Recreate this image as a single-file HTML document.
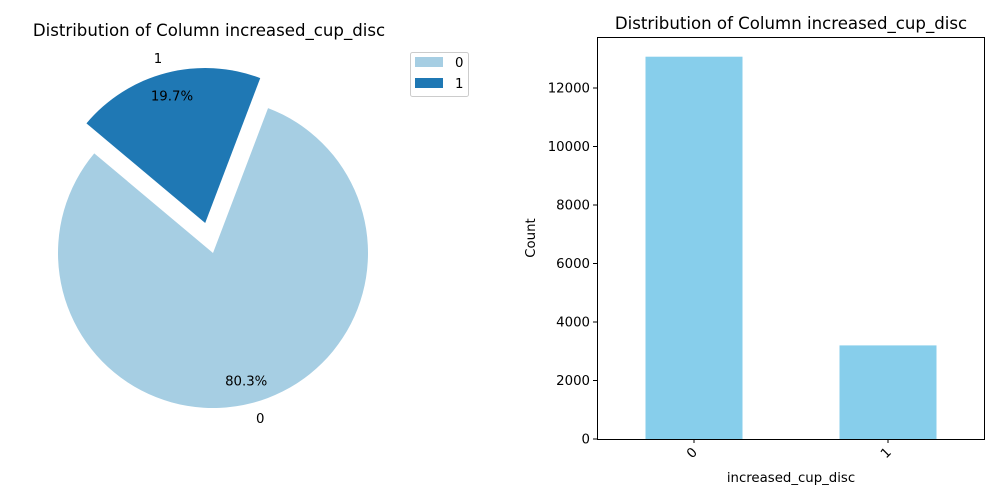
<!DOCTYPE html>
<html><head><meta charset="utf-8"><style>
body{margin:0;background:#fff;}
svg{display:block;font-family:"DejaVu Sans","Liberation Sans",sans-serif;}
</style></head><body>
<svg id="c" width="1000" height="500" viewBox="0 0 1000 500">
<rect width="1000" height="500" fill="#fff"/>
<text x="209" y="36" font-size="16.6" text-anchor="middle">Distribution of Column increased_cup_disc</text>
<g id="pie"></g>
<g>
<rect x="410.5" y="52.5" width="58" height="44" rx="2" fill="#fff" stroke="#ccc"/>
<rect x="415" y="57" width="28" height="10" fill="#a6cee3"/>
<text x="455" y="67" font-size="13.3">0</text>
<rect x="415" y="78" width="28" height="10" fill="#1f78b4"/>
<text x="455" y="88" font-size="13.3">1</text>
</g>
<text x="791" y="29" font-size="16.6" text-anchor="middle">Distribution of Column increased_cup_disc</text>
<g id="bars"></g>
<text x="791" y="482" font-size="13.3" text-anchor="middle">increased_cup_disc</text>
<text x="535" y="238" font-size="13.3" text-anchor="middle" transform="rotate(-90 535 238)">Count</text>
</svg>
<script>
const categories = ["0", "1"];
const counts = [13070, 3200];
const yTicks = [0, 2000, 4000, 6000, 8000, 10000, 12000];
const pieColors = ["#a6cee3", "#1f78b4"];
const NS = "http://www.w3.org/2000/svg";
function mk(tag, attrs, parent){const e=document.createElementNS(NS,tag);for(const k in attrs)e.setAttribute(k,attrs[k]);parent.appendChild(e);return e;}
// pie
const pie=document.getElementById('pie');
const cx=213, cy=253, r=155, start=140;
const total=counts.reduce((a,b)=>a+b,0);
let a0=start;
counts.forEach((v,i)=>{
  const sweep=v/total*360, a1=a0+sweep, mid=(a0+a1)/2*Math.PI/180;
  const ex=i===1?0.2*r:0;
  const ox=cx+ex*Math.cos(mid), oy=cy-ex*Math.sin(mid);
  const p=(a)=>[ox+r*Math.cos(a*Math.PI/180), oy-r*Math.sin(a*Math.PI/180)];
  const [x0,y0]=p(a0),[x1,y1]=p(a1);
  const path=mk('path',{d:`M${ox},${oy}L${x0},${y0}A${r},${r} 0 ${sweep>180?1:0} 0 ${x1},${y1}Z`,fill:pieColors[i]},pie);
  
  
  const lx=ox+1.1*r*Math.cos(mid);
  const lt=mk('text',{x:lx,y:oy-1.1*r*Math.sin(mid)+5,'font-size':13.3,'text-anchor':Math.cos(mid)<0?'end':'start'},pie);
  lt.textContent=categories[i];
  
  
  const pt=mk('text',{x:ox+0.85*r*Math.cos(mid),y:oy-0.85*r*Math.sin(mid)+5,'font-size':13.3,'text-anchor':'middle'},pie);
  pt.textContent=(v/total*100).toFixed(1)+'%';
  
  
  a0=a1;
});
// bars
const g=document.getElementById('bars');
const L=597,R=985,T=37,B=439;
const y=v=>B-v*(B-88)/12000;
const xc=i=>694+i*194;
yTicks.forEach(t=>{
  const ln=mk('line',{x1:L-4,x2:L,y1:y(t),y2:y(t),stroke:'#000'},g);
  
  
  const tx=mk('text',{x:L-7,y:y(t)+4.5,'font-size':13.3,'text-anchor':'end'},g);
  tx.textContent=t;
  
  
});
counts.forEach((v,i)=>{
  const b=mk('rect',{x:xc(i)-48.5,y:y(v),width:97,height:B-y(v),fill:'#87ceeb'},g);
  
  
  mk('line',{x1:xc(i),x2:xc(i),y1:B,y2:B+4,stroke:'#000'},g);
  const tx=mk('text',{x:0,y:0,'font-size':13.3,'text-anchor':'end',transform:`translate(${xc(i)+4},${B+14}) rotate(-45)`},g);
  tx.textContent=categories[i];
  
  
});
const fr=mk('rect',{x:L+0.5,y:T+0.5,width:R-L-1,height:B-T,fill:'none',stroke:'#000'},g);


</script>
</body></html>
